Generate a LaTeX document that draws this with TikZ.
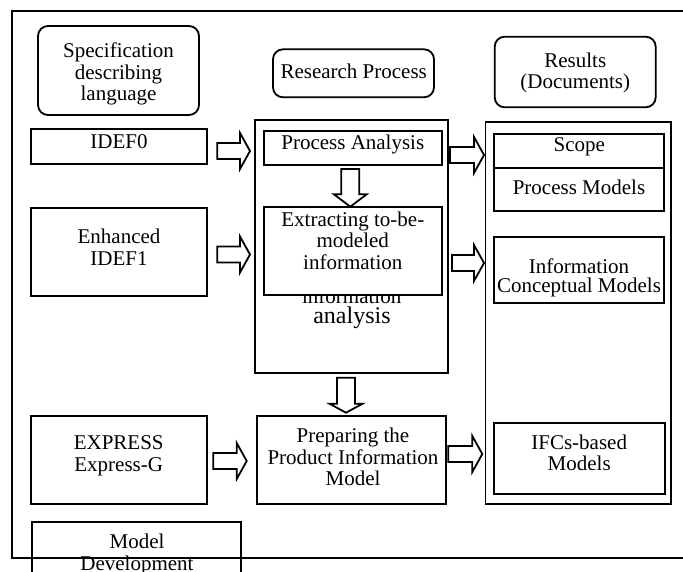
\documentclass[tikz,border=0pt]{standalone}
\usepackage{fontspec}
\setmainfont{Liberation Serif}
\usetikzlibrary{calc,fit}

% block arrows: tail coordinate, tip coordinate
\newcommand\blockright[2]{%
  \draw[blockarrow] ($(#1)+(0,-8)$) -- ($(#2)+(-10,-8)$) -- ($(#2)+(-10,-18)$)
    -- (#2) -- ($(#2)+(-10,18)$) -- ($(#2)+(-10,8)$) -- ($(#1)+(0,8)$) -- cycle;}
% tail, tip, head length
\newcommand\blockdown[3]{%
  \draw[blockarrow] ($(#1)+(-9,0)$) -- ($(#2)+(-9,-#3)$) -- ($(#2)+(-16.5,-#3)$)
    -- (#2) -- ($(#2)+(16.5,-#3)$) -- ($(#2)+(9,-#3)$) -- ($(#1)+(9,0)$) -- cycle;}

\tikzset{
  box/.style={draw, line width=1.8pt, inner sep=0pt},
  fbox/.style={box, fill=white},
  rbox/.style={box, rounded corners=10pt},
  txt/.style={inner sep=0pt, outer sep=0pt, align=center, anchor=north,
    font=\fontsize{21}{21.5}\selectfont},
  blockarrow/.style={draw, line width=1.8pt, fill=white, line join=miter},
}

\begin{document}
\begin{tikzpicture}[x=1pt, y=-1pt]
\useasboundingbox (0,0) rectangle (683,571);

% outer frame
\node[box, fit={(12.3,10.7) (686,557.7)}] (frame) {};

% column headings
\node[rbox, fit={(38,26) (199,115)}] (spec) {};
\node[txt] (spect) at (118.5,43.1) {Specification\\describing\\language};
\node[rbox, fit={(273,49.3) (434,97.3)}] (rp) {};
\node[txt] (rpt) at (353.7,64.1) {Research Process};
\node[rbox, fit={(494.7,36.7) (655.7,107.3)}] (res) {};
\node[txt] (rest) at (575.3,52.5) {Results\\(Documents)};

% specification languages
\node[box, fit={(30.7,129) (207.3,164)}] (idef0) {};
\node[txt] (idef0t) at (119,134.1) {IDEF0};
\node[box, fit={(30.7,208.3) (207.3,296)}] (idef1) {};
\node[txt] (idef1t) at (119,229.1) {Enhanced\\IDEF1};
\node[box, fit={(30.7,415.7) (207.3,504)}] (express) {};
\node[txt] (expresst) at (118.7,435.8) {EXPRESS\\Express-G};

% research process
\node[box, fit={(255,120) (448,372.7)}] (research) {};
\node[inner sep=0pt, anchor=base, font=\fontsize{21}{21.5}\selectfont] (infot) at (351.7,303) {information};
\node[inner sep=0pt, anchor=base, font=\fontsize{24}{24}\selectfont] (anat) at (352,323.5) {analysis};
\node[fbox, fit={(264,130.7) (441.7,165)}] (pa) {};
\node[txt] (pat) at (352.8,135.1) {Process Analysis};
\node[fbox, fit={(264,206.7) (441.7,295)}] (ext) {};
\node[txt] (extt) at (352.8,211.8) {Extracting to-be-\\modeled\\information};
\node[box, fit={(256.7,416) (445.7,504)}] (prep) {};
\node[txt] (prept) at (353,428.1) {Preparing the\\Product Information\\Model};

% results
\node[box, fit={(485.5,122) (671.3,504)}] (results) {};
\node[box, fit={(494,134) (664,168)}] (scope) {};
\node[txt] (scopet) at (579.3,137.5) {Scope};
\node[box, fit={(494,168) (664,211)}] (pm) {};
\node[txt] (pmt) at (579,179.8) {Process Models};
\node[box, fit={(494,236.7) (664,302.7)}] (icm) {};
\node[txt, font=\fontsize{21}{18.5}\selectfont] (icmt) at (579,259.1) {Information\\Conceptual Models};
\node[box, fit={(494,423.3) (664.7,494.3)}] (ifc) {};
\node[txt] (ifct) at (579.2,434.8) {IFCs-based\\Models};

% model development
\node[box, fit={(32.3,521.7) (241,600)}] (md) {};
\node[txt] (mdt) at (137,534.1) {Model\\Development};

% arrows
\coordinate (a1t) at (217.3,151);   \coordinate (a1h) at (250,151);
\coordinate (a2t) at (217.3,254.5); \coordinate (a2h) at (250,254.5);
\coordinate (a3t) at (213.3,461);   \coordinate (a3h) at (246.7,461);
\coordinate (a4t) at (448.3,454);   \coordinate (a4h) at (482.3,454);
\coordinate (a5t) at (450,155);     \coordinate (a5h) at (484,155);
\coordinate (a6t) at (452,263);     \coordinate (a6h) at (484,263);
\blockright{a1t}{a1h}
\blockright{a2t}{a2h}
\blockright{a3t}{a3h}
\blockright{a4t}{a4h}
\blockright{a5t}{a5h}
\blockright{a6t}{a6h}
\coordinate (d1t) at (350.3,169);   \coordinate (d1h) at (350.3,206.7);
\coordinate (d2t) at (346,377.7);   \coordinate (d2h) at (346,412.7);
\blockdown{d1t}{d1h}{12.5}
\blockdown{d2t}{d2h}{9}
\end{tikzpicture}
\end{document}
